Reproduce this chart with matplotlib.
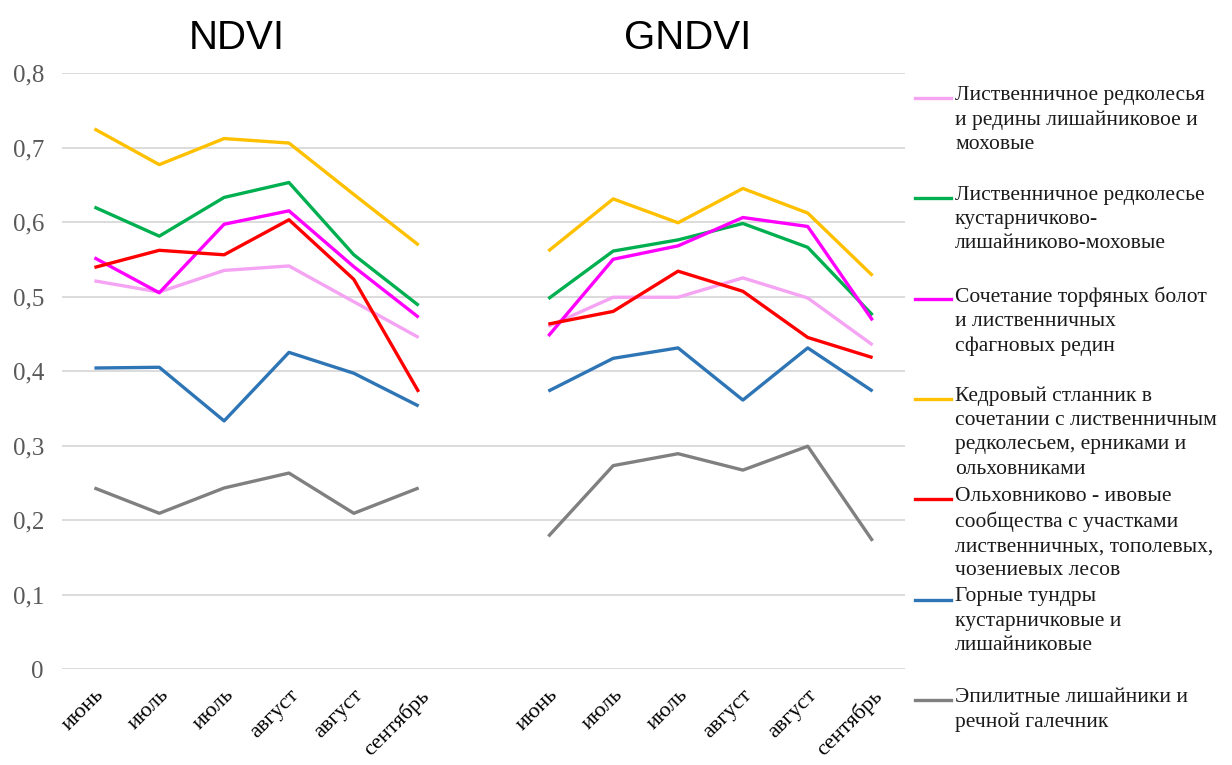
import numpy as np
import matplotlib.pyplot as plt
from matplotlib.lines import Line2D

# --- données ---
months = ['июнь', 'июль', 'июль', 'август', 'август', 'сентябрь']
y_ticks = [0, 0.1, 0.2, 0.3, 0.4, 0.5, 0.6, 0.7, 0.8]
y_tick_labels = ['0', '0,1', '0,2', '0,3', '0,4', '0,5', '0,6', '0,7', '0,8']

labels = [
    'Лиственничное редколесья\nи редины лишайниковое и\nмоховые',
    'Лиственничное редколесье\nкустарничково-\nлишайниково-моховые',
    'Сочетание торфяных болот\nи лиственничных\nсфагновых редин',
    'Кедровый стланник в\nсочетании с лиственничным\nредколесьем, ерниками и\nольховниками',
    'Ольховниково - ивовые\nсообщества с участками\nлиственничных, тополевых,\nчозениевых лесов',
    'Горные тундры\nкустарничковые и\nлишайниковые',
    'Эпилитные лишайники и\nречной галечник',
]
colors = ['#F5A3F3', '#00B050', '#FF00FF', '#FFC000', '#FF0000', '#2E75B6', '#808080']

ndvi = [
    [0.521, 0.506, 0.535, 0.541, 0.493, 0.445],
    [0.620, 0.581, 0.633, 0.653, 0.556, 0.488],
    [0.552, 0.505, 0.597, 0.615, 0.540, 0.472],
    [0.725, 0.677, 0.712, 0.706, 0.637, 0.569],
    [0.539, 0.562, 0.556, 0.603, 0.523, 0.372],
    [0.404, 0.405, 0.333, 0.425, 0.397, 0.353],
    [0.243, 0.209, 0.243, 0.263, 0.209, 0.243],
]
gndvi = [
    [0.460, 0.499, 0.499, 0.525, 0.498, 0.435],
    [0.497, 0.561, 0.576, 0.598, 0.566, 0.475],
    [0.447, 0.550, 0.568, 0.606, 0.594, 0.468],
    [0.561, 0.631, 0.599, 0.645, 0.612, 0.528],
    [0.463, 0.480, 0.534, 0.507, 0.445, 0.418],
    [0.373, 0.417, 0.431, 0.361, 0.431, 0.373],
    [0.178, 0.273, 0.289, 0.267, 0.299, 0.172],
]

serif = ['Liberation Serif', 'DejaVu Serif']
sans = ['Liberation Sans', 'DejaVu Sans']

# --- figure ---
W, H = 1232, 765
fig = plt.figure(figsize=(W / 100, H / 100), dpi=100)
ax = fig.add_axes([62 / W, 1 - 669 / H, 843 / W, 596 / H])

# 13 positions : 6 NDVI, une case vide, 6 GNDVI
x = np.arange(13)
for vals_n, vals_g, c in zip(ndvi, gndvi, colors):
    y = np.array(vals_n + [np.nan] + vals_g)
    ax.plot(x, y, color=c, linewidth=2.4, solid_capstyle='butt', zorder=3)

ax.set_xlim(-0.5, 12.5)
ax.set_ylim(0, 0.8)
ax.set_yticks(y_ticks)
ax.set_yticklabels(y_tick_labels, family=serif, fontsize=18, color='#595959')
ax.set_xticks(x)
ax.set_xticklabels(months + [''] + months, family=serif, fontsize=16,
                   rotation=45, ha='right', va='top', rotation_mode='anchor')
ax.tick_params(axis='both', length=0)
ax.tick_params(axis='y', pad=13)
ax.tick_params(axis='x', pad=12)
ax.grid(axis='y', color='#D9D9D9', linewidth=1.3)
ax.set_axisbelow(True)
for s in ax.spines.values():
    s.set_visible(False)

# titres des deux groupes
fig.text(237 / W, 1 - 38 / H, 'NDVI', family=sans, fontsize=29,
         ha='center', va='center', color='black')
fig.text(688 / W, 1 - 38 / H, 'GNDVI', family=sans, fontsize=29,
         ha='center', va='center', color='black')

# légende manuelle (entrées espacées régulièrement, texte aligné en haut)
for i, (lab, c) in enumerate(zip(labels, colors)):
    ym = 98 + 100.3 * i
    fig.add_artist(Line2D([915 / W, 951 / W], [1 - ym / H, 1 - ym / H],
                          color=c, linewidth=2.4, transform=fig.transFigure))
    fig.text(955 / W, 1 - (ym - 12) / H, lab, family=serif, fontsize=15.5,
             ha='left', va='top', linespacing=1.36, color='#1a1a1a')

fig.savefig('out.png', dpi=100)
